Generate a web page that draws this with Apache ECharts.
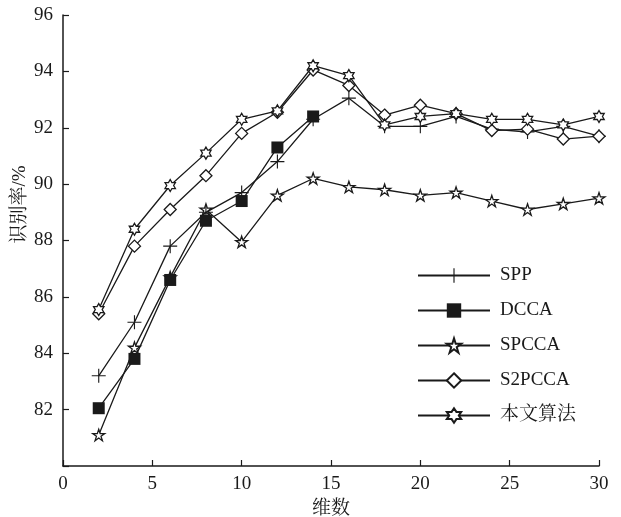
<!DOCTYPE html>
<html>
<head>
<meta charset="utf-8">
<script src="https://cdn.jsdelivr.net/npm/echarts@6/dist/echarts.min.js"></script>
<style>html,body{margin:0;padding:0;background:#fff;}#c{width:621px;height:517px;}</style>
</head>
<body>
<div id="c"></div>
<script>
const dims = [2, 4, 6, 8, 10, 12, 14, 16, 18, 20, 22, 24, 26, 28, 30];
const dccaDims = [2, 4, 6, 8, 10, 12, 14];
const sppValues = [83.2, 85.1, 87.8, 89.0, 89.7, 90.8, 92.3, 93.05, 92.05, 92.05, 92.4, 91.95, 91.85, 92.05, 91.7];
const dccaValues = [82.05, 83.8, 86.6, 88.7, 89.4, 91.3, 92.4];
const spccaValues = [81.1, 84.2, 86.7, 89.1, 87.95, 89.6, 90.2, 89.9, 89.8, 89.6, 89.7, 89.4, 89.1, 89.3, 89.5];
const s2pccaValues = [85.4, 87.8, 89.1, 90.3, 91.8, 92.55, 94.05, 93.5, 92.45, 92.8, 92.5, 91.9, 91.95, 91.6, 91.7];
const oursValues = [85.55, 88.4, 89.95, 91.1, 92.3, 92.6, 94.2, 93.85, 92.1, 92.4, 92.5, 92.3, 92.3, 92.1, 92.4];
const seriesNames = ['SPP', 'DCCA', 'SPCCA', 'S2PCCA', '本文算法'];
const xTitle = '维数';
const yTitle = '识别率/%';

const pair = (xs, ys) => xs.map((x, i) => [x, ys[i]]);
const FONT = "'Liberation Serif', 'Noto Serif CJK SC', 'Noto Sans CJK SC', serif";
const INK = '#1a1a1a';

const plusPath = 'path://M-0.08,-1L0.08,-1L0.08,-0.08L1,-0.08L1,0.08L0.08,0.08L0.08,1L-0.08,1L-0.08,0.08L-1,0.08L-1,-0.08L-0.08,-0.08Z';
const starPath = 'path://M0,-1L0.2245,-0.309L0.951,-0.309L0.363,0.118L0.5878,0.809L0,0.382L-0.5878,0.809L-0.363,0.118L-0.951,-0.309L-0.2245,-0.309Z';
const hexPath = 'path://M0,-1L0.2887,-0.5L0.866,-0.5L0.577,0L0.866,0.5L0.2887,0.5L0,1L-0.2887,0.5L-0.866,0.5L-0.577,0L-0.866,-0.5L-0.2887,-0.5Z';

function mk(name, data, symbol, size, filled, z) {
  return {
    name, type: 'line', data, symbol, symbolSize: size, symbolKeepAspect: true,
    z,
    lineStyle: { color: INK, width: 1.3 },
    itemStyle: filled ? { color: INK, borderWidth: 0 } : { color: '#fff', borderColor: INK, borderWidth: 1.3 },
    emphasis: { disabled: true },
    animation: false
  };
}

const chart = echarts.init(document.getElementById('c'), null, { renderer: 'canvas' });
chart.setOption({
  backgroundColor: '#fff',
  animation: false,
  grid: { left: 63, right: 22, top: 15, bottom: 51, containLabel: false, outerBoundsMode: 'none' },
  legend: {
    orient: 'vertical', left: 417, top: 266, padding: 0,
    itemWidth: 72, itemHeight: 18, itemGap: 16,
    textStyle: { fontFamily: FONT, fontSize: 19, color: INK, padding: [0, 0, 0, 5] },
    data: seriesNames
  },
  xAxis: {
    type: 'value', min: 0, max: 30, interval: 5,
    name: xTitle, nameLocation: 'middle', nameGap: 34, nameMoveOverlap: false,
    nameTextStyle: { fontFamily: FONT, fontSize: 19, color: INK },
    axisLine: { lineStyle: { color: INK, width: 1.5 } },
    axisTick: { inside: true, length: 6, lineStyle: { color: INK, width: 1.2 } },
    axisLabel: { fontFamily: FONT, fontSize: 19, color: INK, margin: 9 },
    splitLine: { show: false }
  },
  yAxis: {
    type: 'value', min: 80, max: 96, interval: 2,
    name: yTitle, nameLocation: 'middle', nameGap: 33, nameMoveOverlap: false,
    nameTextStyle: { fontFamily: FONT, fontSize: 19, color: INK, padding: [0, 0, 0, 72] },
    axisLine: { show: true, lineStyle: { color: INK, width: 1.5 } },
    axisTick: { show: true, inside: true, length: 6, lineStyle: { color: INK, width: 1.2 } },
    axisLabel: { fontFamily: FONT, fontSize: 19, color: INK, margin: 10, formatter: v => (v === 80 ? '' : v) },
    splitLine: { show: false }
  },
  series: [
    mk(seriesNames[0], pair(dims, sppValues), plusPath, 14, true, 3),
    mk(seriesNames[1], pair(dccaDims, dccaValues), 'rect', 12, true, 4),
    mk(seriesNames[2], pair(dims, spccaValues), starPath, 12, false, 2),
    mk(seriesNames[3], pair(dims, s2pccaValues), 'diamond', 12, false, 5),
    mk(seriesNames[4], pair(dims, oursValues), hexPath, 12, false, 6)
  ]
});
</script>
</body>
</html>
